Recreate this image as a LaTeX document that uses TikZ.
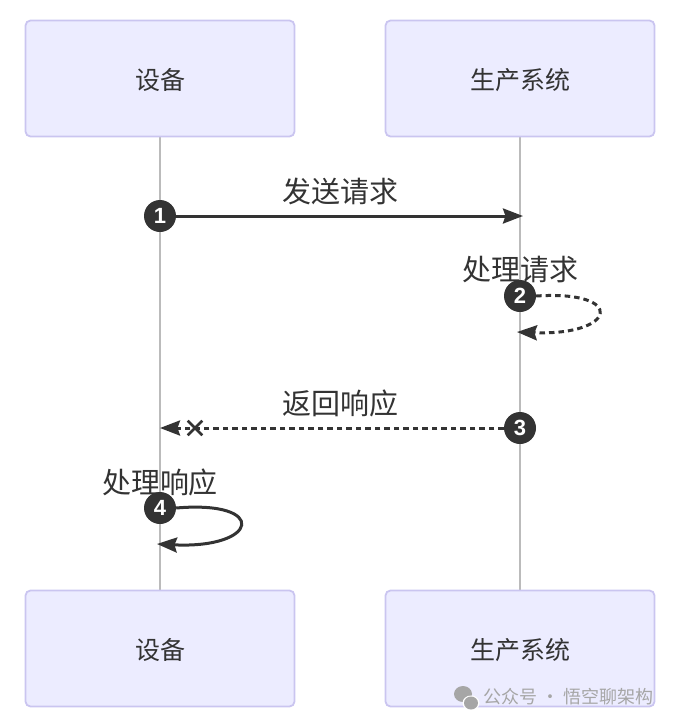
\documentclass[tikz,border=0pt]{standalone}
\usepackage{fontspec}
\usepackage{xcolor}
\setmainfont{Noto Sans CJK SC}
\setsansfont{Liberation Sans}
\usetikzlibrary{arrows.meta,positioning,shapes.misc,backgrounds}
\definecolor{actorFill}{HTML}{ECECFF}
\definecolor{actorEdge}{HTML}{CAC5F0}
\definecolor{ink}{HTML}{333333}
\definecolor{lifeGray}{HTML}{BBBBBB}
\definecolor{markGray}{HTML}{A6A6A6}
\newcommand{\actorname}[1]{\raisebox{-3pt}[0.8em][0.2em]{#1}}
\tikzset{
  actor/.style={rectangle, rounded corners=5pt, draw=actorEdge, fill=actorFill, line width=1.8pt, minimum width=269pt, minimum height=116pt, text=ink, font=\fontsize{25}{25}\selectfont, inner sep=0pt},
  lifeline/.style={draw=lifeGray, line width=1.2pt},
  badge/.style={circle, fill=ink, text=white, minimum size=32pt, inner sep=0pt, font=\sffamily\bfseries\fontsize{22}{22}\selectfont},
  message/.style={draw=ink, line width=3pt, -{Stealth[length=20pt,width=15pt,inset=2.5pt]}},
  reply/.style={message, dash pattern=on 5.5pt off 4pt},
  caption/.style={text=ink, font=\fontsize{29}{29}\selectfont, inner sep=0pt},
  crossmark/.style={cross out, draw=ink, line width=2.6pt, minimum size=12pt, inner sep=0pt}
}
\begin{document}
\begin{tikzpicture}[x=1pt, y=-1pt]
    \useasboundingbox (0,0) rectangle (675,724);

    % Actors
    \node [actor] (deviceTop) at (160,78.5) {\actorname{设备}};
    \node [actor] (systemTop) at (520,78.5) {\actorname{生产系统}};
    \node [actor] (deviceBottom) at (160,648.5) {\actorname{设备}};
    \node [actor] (systemBottom) at (520,648.5) {\actorname{生产系统}};

    % Lifelines
    \begin{scope}[on background layer]
      \draw[lifeline] (deviceTop.south) -- (deviceBottom.north);
      \draw[lifeline] (systemTop.south) -- (systemBottom.north);
    \end{scope}

    % Badges
    \node [badge] (step1) at (160,216) {1};
    \node [badge] (step2) at (520,296) {2};
    \node [badge] (step3) at (520,428) {3};
    \node [badge] (step4) at (160,508) {4};

    % Free ends
    \coordinate (end1) at (523,216);
    \coordinate (end2) at (517,332);
    \coordinate (end3) at (160,428);
    \coordinate (end4) at (157,544);

    % Messages
    \draw[message] (step1) -- (end1);
    \draw[reply] (step2.east) .. controls (627,290) and (617,336) .. (end2);
    \draw[reply] (step3) -- (end3);
    \draw[message] (step4.east) .. controls (269,500) and (259,549) .. (end4);
    \node [crossmark] (cross3) at (195,428) {};

    % Captions
    \node [caption] (send) at (340,191) {发送请求};
    \node [caption] (work) at (520,270) {处理请求};
    \node [caption] (back) at (340,403) {返回响应};
    \node [caption] (done) at (160,482) {处理响应};

    % Watermark
    \node [text=markGray, font=\fontsize{18}{18}\selectfont, inner sep=0pt, anchor=east] (mark) at (654,697) {公众号 · 悟空聊架构};
    \fill[markGray] (463,694) ellipse (9pt and 8pt);
    \fill[white] (471,703) ellipse (8.5pt and 7.5pt);
    \fill[markGray] (471,703) ellipse (7pt and 6.5pt);
\end{tikzpicture}
\end{document}
